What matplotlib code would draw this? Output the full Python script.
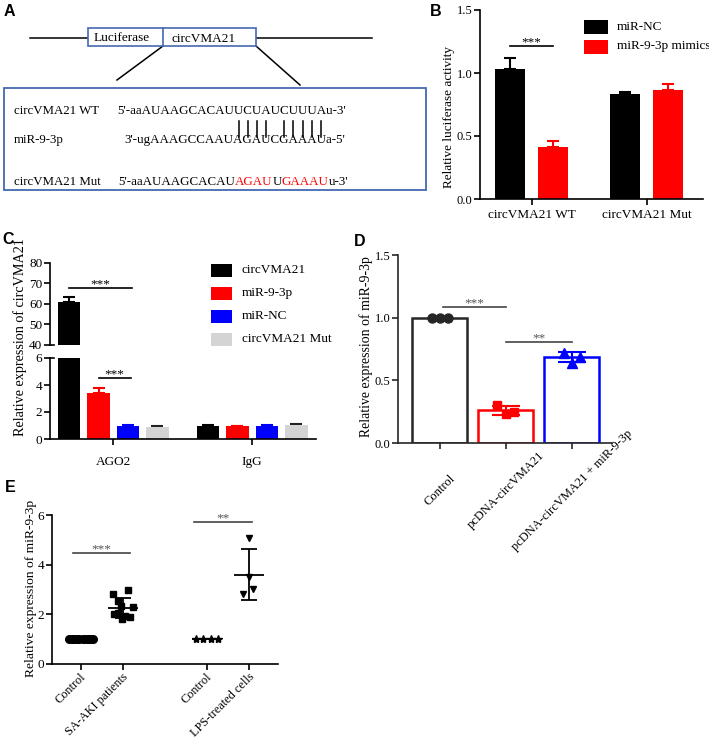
import numpy as np
import matplotlib
matplotlib.use('Agg')
import matplotlib.pyplot as plt
from matplotlib.patches import Rectangle
from matplotlib.font_manager import FontProperties
import matplotlib.transforms as mtransforms

plt.rcParams['font.family'] = ['Liberation Serif', 'DejaVu Serif']
plt.rcParams['font.size'] = 9.5
plt.rcParams['axes.linewidth'] = 1.2
plt.rcParams['xtick.major.width'] = 1.2
plt.rcParams['ytick.major.width'] = 1.2
plt.rcParams['xtick.major.size'] = 4
plt.rcParams['ytick.major.size'] = 4
plt.rcParams['xtick.major.pad'] = 3
plt.rcParams['ytick.major.pad'] = 1.5

# ---------------- data ----------------
# Panel A
a_labels = ['circVMA21 WT', 'miR-9-3p', 'circVMA21 Mut']
a_seq_wt = "5'-aaAUAAGCACAUUCUAUCUUUAu-3'"
a_seq_mir = "3'-ugAAAGCCAAUAGAUCGAAAUa-5'"
a_seq_mut_parts = ["5'-aaAUAAGCACAU", "AGAU", "U", "GAAAU", "u-3'"]
a_seq_mut_colors = ['black', 'red', 'black', 'red', 'black']
a_pair_index = [15, 16, 17, 18, 20, 21, 22, 23, 24]

# Panel B
b_groups = ['circVMA21 WT', 'circVMA21 Mut']
b_series = ['miR-NC', 'miR-9-3p mimics']
b_colors = ['black', 'red']
b_means = [[1.03, 0.836], [0.413, 0.862]]
b_errs = [[0.09, 0.016], [0.047, 0.053]]

# Panel C
c_groups = ['AGO2', 'IgG']
c_series = ['circVMA21', 'miR-9-3p', 'miR-NC', 'circVMA21 Mut']
c_colors = ['black', 'red', 'blue', '#d4d4d4']
c_err_colors = ['black', 'red', 'blue', '#222222']
c_means = [[61.0, 1.0], [3.43, 0.98], [0.99, 1.0], [0.91, 1.04]]
c_errs = [[2.5, 0.02], [0.37, 0.02], [0.06, 0.06], [0.03, 0.08]]

# Panel D
d_groups = ['Control', 'pcDNA-circVMA21', 'pcDNA-circVMA21 + miR-9-3p']
d_points = [[1.0, 1.0, 1.0], [0.30, 0.23, 0.25], [0.72, 0.64, 0.69]]
d_offsets = [[-0.12, 0.0, 0.12], [-0.13, 0.0, 0.13], [-0.12, 0.0, 0.13]]
d_colors = ['#262626', 'red', 'blue']
d_markers = ['o', 's', '^']

# Panel E
e_groups = ['Control', 'SA-AKI patients', 'Control', 'LPS-treated cells']
e_positions = [0, 1, 3, 4]
e_values = [
    [1.0, 1.0, 1.0, 1.0, 1.0, 1.0, 1.0, 1.0, 1.0, 1.0],
    [2.8, 3.0, 2.55, 2.3, 2.35, 2.05, 1.95, 1.9, 1.8, 2.0],
    [1.0, 1.0, 1.0, 1.0],
    [5.07, 3.5, 2.82, 3.02],
]
e_offsets = [
    [-0.28, -0.22, -0.16, -0.10, -0.04, 0.04, 0.10, 0.16, 0.22, 0.28],
    [-0.24, 0.12, -0.12, 0.24, -0.05, -0.12, 0.05, 0.17, -0.02, -0.21],
    [-0.27, -0.09, 0.09, 0.27],
    [0.0, 0.0, -0.14, 0.10],
]
e_markers = ['o', 's', '*', 'v']
e_msizes = [5.5, 4.6, 6.0, 4.6]

# ---------------- figure ----------------
W, H = 709, 744
fig = plt.figure(figsize=(W / 100, H / 100), dpi=100)


def rect(x0, y0, x1, y1):
    return [x0 / W, 1 - y1 / H, (x1 - x0) / W, (y1 - y0) / H]


def style(ax, color='black'):
    for s in ['top', 'right']:
        ax.spines[s].set_visible(False)
    for s in ['left', 'bottom']:
        ax.spines[s].set_color(color)
    ax.tick_params(colors=color, labelcolor='black', labelsize=9.5)
    ax.tick_params(axis='y', labelsize=9)


def stars(ax, x0, x1, y, txt, lc='black', tc='black'):
    ax.plot([x0, x1], [y, y], color=lc, lw=1.2, clip_on=False)
    ax.annotate(txt, ((x0 + x1) / 2, y), xytext=(0, 0.5), textcoords='offset points',
                ha='center', va='baseline', color=tc, fontsize=9.5, annotation_clip=False)


# ---------------- Panel B ----------------
axB = fig.add_axes(rect(480, 10, 703, 199))
style(axB)
xb = np.arange(len(b_groups))
b_off = [-0.187, 0.187]
for i in range(len(b_series)):
    pos = xb + b_off[i]
    axB.bar(pos, b_means[i], width=0.257, color=b_colors[i], zorder=2)
    axB.errorbar(pos, b_means[i], yerr=[np.zeros(len(pos)), b_errs[i]], fmt='none',
                 ecolor=b_colors[i], elinewidth=1.5, capsize=4, capthick=1.5, zorder=1)
axB.set_xlim(-0.448, 1.49)
axB.set_ylim(0, 1.5)
axB.set_yticks([0, 0.5, 1.0, 1.5])
axB.set_yticklabels(['0.0', '0.5', '1.0', '1.5'])
axB.set_xticks(xb)
axB.set_xticklabels(b_groups)
stars(axB, xb[0] + b_off[0], xb[0] + b_off[1], 1.214, '***')

# ---------------- Panel C ----------------
axCt = fig.add_axes(rect(50, 263, 316, 345))
axCb = fig.add_axes(rect(50, 358, 316, 439))
xc = np.arange(len(c_groups))
c_off = [-0.318, -0.106, 0.106, 0.318]
for ax in (axCt, axCb):
    style(ax)
    ax.tick_params(axis='y', labelsize=9.5)
    for i in range(len(c_series)):
        pos = xc + c_off[i]
        ax.bar(pos, c_means[i], width=0.162, color=c_colors[i], zorder=2)
        ax.errorbar(pos, c_means[i], yerr=[np.zeros(len(pos)), c_errs[i]], fmt='none',
                    ecolor=c_err_colors[i], elinewidth=1.5, capsize=4, capthick=1.5, zorder=1)
    ax.set_xlim(-0.455, 1.459)
axCt.set_ylim(40, 80)
axCt.set_yticks([40, 50, 60, 70, 80])
axCt.spines['bottom'].set_visible(False)
axCt.set_xticks([])
axCb.set_ylim(0, 6)
axCb.set_yticks([0, 2, 4, 6])
axCb.set_xticks(xc)
axCb.set_xticklabels(c_groups)
axCb.tick_params(axis='x', pad=8)
# break marks
axCt.plot([0, 0.016], [0, 0], transform=axCt.transAxes, color='black', lw=1.2, clip_on=False)
axCb.plot([0, 0.016], [1, 1], transform=axCb.transAxes, color='black', lw=1.2, clip_on=False)
stars(axCt, xc[0] + c_off[0], xc[0] + c_off[2] + 0.03, 68, '***')
stars(axCb, xc[0] + c_off[1], xc[0] + c_off[2] + 0.02, 4.5, '***')

# ---------------- Panel D ----------------
dcol = '#262626'
axD = fig.add_axes(rect(398, 255, 612, 443))
style(axD, dcol)
xd = np.arange(len(d_groups))
d_means = [np.mean(p) for p in d_points]
d_sds = [np.std(p, ddof=1) for p in d_points]
axD.bar(xd, d_means, width=0.83, facecolor='white', edgecolor=d_colors, linewidth=1.8, zorder=1)
for i in range(len(d_groups)):
    xs = xd[i] + np.array(d_offsets[i])
    axD.plot(xs, d_points[i], linestyle='none', marker=d_markers[i], color=d_colors[i],
             markersize=6.5 if d_markers[i] != 's' else 6, zorder=3, clip_on=False)
    if d_sds[i] > 0:
        axD.errorbar(xd[i], d_means[i], yerr=d_sds[i], fmt='none', ecolor=d_colors[i],
                     elinewidth=1.5, capsize=10, capthick=1.5, zorder=4)
axD.set_xlim(-0.63, 2.61)
axD.set_ylim(0, 1.5)
axD.set_yticks([0, 0.5, 1.0, 1.5])
axD.set_yticklabels(['0.0', '0.5', '1.0', '1.5'])
axD.set_xticks(xd)
axD.set_xticklabels([''] * len(xd))
trD = mtransforms.blended_transform_factory(axD.transData, axD.transAxes)
for i, lab in enumerate(d_groups):
    axD.text(xd[i], -0.25, lab, transform=trD, rotation=45, ha='center', va='center', fontsize=9)
stars(axD, 0.05, 1.0, 1.085, '***', lc='#444444', tc='#555555')
stars(axD, 1.0, 2.0, 0.806, '**', lc='#444444', tc='#555555')

# ---------------- Panel E ----------------
axE = fig.add_axes(rect(52, 515, 278, 664))
style(axE)
axE.tick_params(axis='y', labelsize=9.5)
for i in range(len(e_groups)):
    xs = e_positions[i] + np.array(e_offsets[i])
    vals = np.array(e_values[i])
    axE.plot(xs, vals, linestyle='none', marker=e_markers[i], color='black',
             markersize=e_msizes[i], zorder=2, clip_on=False)
    m = vals.mean()
    sd = vals.std(ddof=1)
    axE.hlines(m, e_positions[i] - 0.35, e_positions[i] + 0.35, color='black', lw=1.3, zorder=3)
    if sd > 0:
        axE.errorbar(e_positions[i], m, yerr=sd, fmt='none', ecolor='black',
                     elinewidth=1.3, capsize=6, capthick=1.3, zorder=3)
axE.set_xlim(-0.69, 4.69)
axE.set_ylim(0, 6)
axE.set_yticks([0, 2, 4, 6])
axE.set_xticks(e_positions)
axE.set_xticklabels([''] * len(e_positions))
trE = mtransforms.blended_transform_factory(axE.transData, axE.transAxes)
for p, lab in zip(e_positions, e_groups):
    axE.text(p + 0.08, -0.075, lab, transform=trE, rotation=45, ha='right', va='center',
             rotation_mode='anchor', fontsize=8.8)
stars(axE, -0.2, 1.17, 4.47, '***', lc='#444444', tc='#555555')
stars(axE, 2.69, 4.07, 5.72, '**', lc='#444444', tc='#555555')

# ---------------- overlay: panel A, legends, labels ----------------
ov = fig.add_axes([0, 0, 1, 1], zorder=5)
ov.set_xlim(0, W)
ov.set_ylim(H, 0)
ov.set_axis_off()

blue_box = '#4368b0'
ov.plot([30, 372], [37.5, 37.5], color='black', lw=1.1, zorder=1)
ov.add_patch(Rectangle((88, 28), 168, 18, facecolor='white', edgecolor=blue_box, lw=1.2, zorder=3))
ov.plot([163, 163], [28, 46], color=blue_box, lw=1.2, zorder=4)
ov.text(94, 38, 'Luciferase', fontsize=9.5, va='center', ha='left', zorder=5)
ov.text(172, 39, 'circVMA21', fontsize=9.5, va='center', ha='left', zorder=5)
ov.plot([163, 117], [46, 80], color='black', lw=1.1)
ov.plot([256, 300], [46, 85], color='black', lw=1.1)
ov.add_patch(Rectangle((4, 88), 422, 102, fill=False, edgecolor=blue_box, lw=1.3))

row_y = [111, 140, 182]
for lab, y in zip(a_labels, row_y):
    ov.text(14, y, lab, fontsize=9.3, va='center', ha='left')

renderer = fig.canvas.get_renderer()
fam = ['Liberation Serif', 'DejaVu Serif']


def text_w(s, fs):
    fp = FontProperties(family=fam, size=fs)
    w, h, d = renderer.get_text_width_height_descent(s, fp, ismath=False)
    return w


fs0 = 10.0
fs_seq = fs0 * 230.0 / text_w(a_seq_wt, fs0)
x_wt = 117
ov.text(x_wt, row_y[0], a_seq_wt, fontsize=fs_seq, va='center', ha='left')
ov.text(124, row_y[1], a_seq_mir, fontsize=fs_seq, va='center', ha='left')
xm = 118
for part, col in zip(a_seq_mut_parts, a_seq_mut_colors):
    ov.text(xm, row_y[2], part, fontsize=fs_seq, va='center', ha='left', color=col)
    xm += text_w(part, fs_seq)
for idx in a_pair_index:
    xc0 = x_wt + (text_w(a_seq_wt[:idx], fs_seq) + text_w(a_seq_wt[:idx + 1], fs_seq)) / 2
    ov.plot([xc0, xc0], [121, 136.5], color='black', lw=1.1)

# legend B
for i, (name, col) in enumerate(zip(b_series, b_colors)):
    yc = [27, 46.5][i]
    ov.add_patch(Rectangle((584, yc - 7), 24, 14, facecolor=col, edgecolor='none'))
    ov.text(617, yc, name, fontsize=9.5, va='center', ha='left')

# legend C
for i, (name, col) in enumerate(zip(c_series, c_colors)):
    yc = 270 + 23 * i
    ov.add_patch(Rectangle((211, yc - 6.5), 21, 13, facecolor=col, edgecolor='none'))
    ov.text(242, yc, name, fontsize=9.5, va='center', ha='left')

# y labels
ov.text(449, 117.5, 'Relative luciferase activity', rotation=90, ha='center', va='center', fontsize=9.5)
ov.text(20.5, 337.5, 'Relative expression of circVMA21', rotation=90, ha='center', va='center', fontsize=10.2)
ov.text(366, 347, 'Relative expression of miR-9-3p', rotation=90, ha='center', va='center', fontsize=9.9)
ov.text(31, 588, 'Relative expression of miR-9-3p', rotation=90, ha='center', va='center', fontsize=9.7)

# panel letters
for let, (x, y) in zip('ABCDE', [(9.5, 12), (436, 12), (8.5, 240), (359.5, 242), (10, 488)]):
    ov.text(x, y, let, fontsize=11.5, fontweight='bold', family=['Liberation Sans', 'DejaVu Sans'],
            ha='center', va='center')

fig.savefig('out.png', dpi=100)
